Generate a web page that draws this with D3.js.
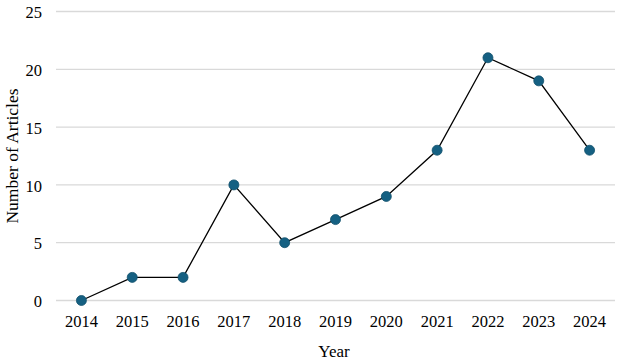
<!DOCTYPE html>
<html><head><meta charset="utf-8">
<script src="https://cdn.jsdelivr.net/npm/d3@7"></script>
<style>body{margin:0;background:#fff}svg{display:block}</style>
</head><body>
<svg id="c" width="619" height="362"></svg>
<script>
const years = ["2014","2015","2016","2017","2018","2019","2020","2021","2022","2023","2024"];
const articles = [0,2,2,10,5,7,9,13,21,19,13];
const yTicks = [0,5,10,15,20,25];

(function(){
const svg = d3.select("#c");
const mLeft = 56, mRight = 615, mTop = 11.5, mBottom = 300.5;
const x = d3.scaleBand().domain(years).range([mLeft, mRight]);
const y = d3.scaleLinear().domain([0,25]).range([mBottom, mTop]);
const font = "'Liberation Serif','Times New Roman',serif";

svg.append("g").selectAll("line").data(yTicks).join("line")
  .attr("x1", mLeft).attr("x2", mRight)
  .attr("y1", d=>y(d)).attr("y2", d=>y(d))
  .attr("stroke", "#d9d9d9").attr("stroke-width", 1.3);

svg.append("g").selectAll("text").data(yTicks).join("text")
  .attr("x", 42).attr("y", d=>y(d)+1).attr("dy","0.35em")
  .attr("text-anchor","end").attr("font-family",font).attr("font-size",16.5)
  .attr("fill","#000").text(d=>d);

svg.append("g").selectAll("text").data(years).join("text")
  .attr("x", d=>x(d)+x.bandwidth()/2).attr("y", 327)
  .attr("text-anchor","middle").attr("font-family",font).attr("font-size",16.5)
  .attr("fill","#000").text(d=>d);

svg.append("text").attr("x", 334).attr("y", 357).attr("text-anchor","middle")
  .attr("font-family",font).attr("font-size",17).text("Year");

svg.append("text").attr("transform","translate(18,156) rotate(-90)")
  .attr("text-anchor","middle").attr("font-family",font).attr("font-size",17.5)
  .text("Number of Articles");

const line = d3.line().x((d,i)=>x(years[i])+x.bandwidth()/2).y(d=>y(d));
svg.append("path").datum(articles).attr("d", line)
  .attr("fill","none").attr("stroke","#000").attr("stroke-width",1.3);

svg.append("g").selectAll("circle").data(articles).join("circle")
  .attr("cx",(d,i)=>x(years[i])+x.bandwidth()/2).attr("cy",d=>y(d)).attr("r",5)
  .attr("fill","#156082").attr("stroke","#11506c").attr("stroke-width",0.8);
})();
</script>
</body></html>
